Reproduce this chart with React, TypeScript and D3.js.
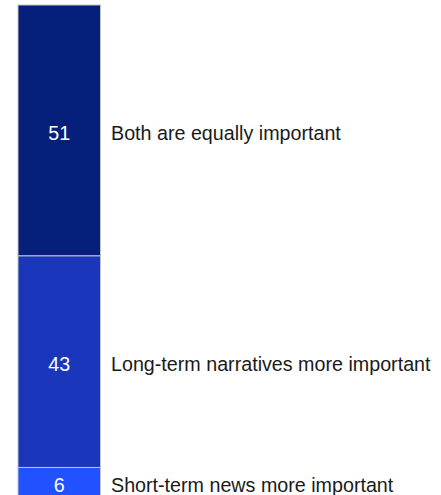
import React from "react";
import * as d3 from "d3";

const categories = ["Both are equally important", "Long-term narratives more important", "Short-term news more important"];
const values = [51, 43, 6];
const colors = ["#061f7a", "#1a36bb", "#2251ff"];

const W = 441;
const H = 495;

export default function App() {
  const total = d3.sum(values);
  const y = d3.scaleLinear().domain([0, total]).range([5, 497]);
  const x0 = 18, x1 = 100.5;
  let acc = 0;
  const segs = values.map((v, i) => {
    const s = { v, i, y0: y(acc), y1: y(acc + v) };
    acc += v;
    return s;
  });
  return (
    <svg width={W} height={H} style={{ position: "absolute", left: 0, top: 0, background: "#fff" }}
      fontFamily="'Liberation Sans', Arial, sans-serif">
      {segs.map((s) => (
        <g key={s.i}>
          <rect x={x0} y={s.y0} width={x1 - x0} height={s.y1 - s.y0} fill={colors[s.i]} stroke="#c4c4c4" strokeWidth={1} />
          <text x={(x0 + x1) / 2} y={(s.y0 + s.y1) / 2 + 2.5} dy="0.35em" textAnchor="middle" fill="#fff" fontSize={19.7}>{s.v}</text>
          <text x={111} y={(s.y0 + s.y1) / 2 + 2.5} dy="0.35em" fill="#1a1a1a" fontSize={19.7}>{categories[s.i]}</text>
        </g>
      ))}
    </svg>
  );
}
